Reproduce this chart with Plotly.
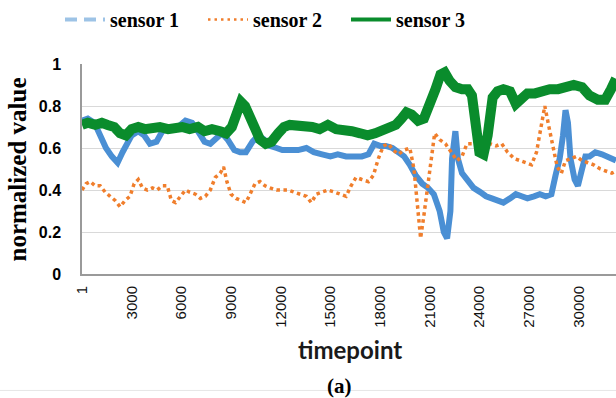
import plotly.graph_objects as go

# ---------------- data ----------------
s3_t = [1, 350, 800, 1200, 1550, 1950, 2300, 2650, 3000, 3400, 3800, 4250, 4700, 5200, 5600,
        6050, 6500, 7000, 7400, 7850, 8350, 8700, 9050, 9350, 9600, 9850, 10150, 10450, 10750,
        11100, 11450, 11850, 12200, 12550, 13000, 13400, 13900, 14350, 14850, 15350, 15800,
        16300, 16800, 17250, 17700, 18100, 18600, 18950, 19300, 19600, 19900, 20300, 20650,
        21000, 21350, 21650, 21900, 22200, 22550, 22950, 23300, 23550, 23800, 24000, 24250,
        24500, 24800, 25100, 25450, 25850, 26200, 26550, 26900, 27350, 27750, 28250, 28750,
        29200, 29700, 30200, 30650, 31150, 31600, 31950, 32250]
s3_v = [0.71, 0.72, 0.71, 0.72, 0.71, 0.70, 0.67, 0.66, 0.69, 0.70, 0.69, 0.70, 0.70, 0.69, 0.70,
        0.70, 0.69, 0.70, 0.68, 0.69, 0.68, 0.67, 0.70, 0.76, 0.82, 0.80, 0.74, 0.68, 0.64,
        0.62, 0.63, 0.67, 0.70, 0.71, 0.71, 0.70, 0.70, 0.69, 0.71, 0.69, 0.69,
        0.68, 0.67, 0.66, 0.67, 0.68, 0.70, 0.71, 0.74, 0.77, 0.76, 0.73, 0.74,
        0.80, 0.88, 0.95, 0.96, 0.92, 0.89, 0.88, 0.88, 0.85, 0.70, 0.58, 0.57,
        0.66, 0.84, 0.87, 0.88, 0.87, 0.81, 0.84, 0.86, 0.86, 0.87, 0.88, 0.88,
        0.89, 0.90, 0.89, 0.85, 0.83, 0.83, 0.88, 0.93]

s1_t = [1, 350, 750, 1100, 1450, 1800, 2150, 2450, 2750, 3000, 3400, 3750, 4100, 4500, 4850,
        5350, 5800, 6250, 6650, 7000, 7400, 7750, 8100, 8450, 8800, 9200, 9550, 9900, 10300,
        10650, 11000, 11350, 11750, 12100, 12550, 13050, 13550, 14000, 14500, 15000, 15450,
        15950, 16450, 16900, 17300, 17650, 18000, 18350, 18750, 19100, 19450, 19800, 20150,
        20550, 20900, 21250, 21600, 21850, 22050, 22250, 22350, 22550, 22700, 22950, 23300,
        23650, 24050, 24400, 24750, 25100, 25450, 25850, 26200, 26550, 26900, 27300, 27650,
        28000, 28350, 28600, 28850, 29050, 29200, 29350, 29500, 29750, 29950, 30200, 30400,
        30650, 31000, 31400, 31750, 32250]
s1_v = [0.73, 0.74, 0.72, 0.66, 0.60, 0.56, 0.53, 0.58, 0.63, 0.66, 0.68, 0.66, 0.62, 0.63, 0.68,
        0.69, 0.70, 0.73, 0.72, 0.68, 0.63, 0.62, 0.65, 0.67, 0.64, 0.59, 0.58, 0.58, 0.63,
        0.66, 0.64, 0.61, 0.60, 0.59, 0.59, 0.59, 0.60, 0.58, 0.57, 0.56, 0.57,
        0.56, 0.56, 0.56, 0.57, 0.62, 0.61, 0.61, 0.60, 0.58, 0.56, 0.52, 0.47,
        0.43, 0.41, 0.38, 0.30, 0.20, 0.17, 0.30, 0.55, 0.68, 0.55, 0.48, 0.45,
        0.41, 0.39, 0.37, 0.36, 0.35, 0.34, 0.36, 0.38, 0.37, 0.36, 0.37, 0.38,
        0.37, 0.38, 0.47, 0.55, 0.66, 0.78, 0.72, 0.55, 0.45, 0.42, 0.50, 0.56,
        0.56, 0.58, 0.57, 0.56, 0.54]

s2_t = [1, 250, 500, 800, 1100, 1400, 1700, 2000, 2300, 2600, 2900, 3150, 3400, 3650, 3950,
        4250, 4550, 4850, 5150, 5400, 5650, 5950, 6250, 6500, 6850, 7150, 7450, 7750, 8050,
        8350, 8550, 8750, 9000, 9300, 9600, 9900, 10150, 10450, 10750, 11050, 11350, 11750,
        12100, 12450, 12800, 13200, 13550, 13850, 14150, 14500, 14850, 15250, 15600, 15950,
        16250, 16550, 16900, 17300, 17600, 17900, 18200, 18500, 18800, 19100, 19450, 19800,
        20050, 20300, 20450, 20650, 20900, 21150, 21300, 21600, 21950, 22300, 22650, 22950,
        23250, 23550, 23900, 24250, 24650, 25000, 25350, 25700, 26100, 26450, 26800, 27150,
        27450, 27700, 27950, 28200, 28450, 28700, 28950, 29200, 29550, 29850, 30200, 30550,
        30900, 31300, 31650, 32000, 32250]
s2_v = [0.40, 0.43, 0.44, 0.42, 0.42, 0.39, 0.37, 0.35, 0.32, 0.35, 0.37, 0.43, 0.45, 0.41, 0.40,
        0.41, 0.40, 0.42, 0.42, 0.35, 0.34, 0.37, 0.40, 0.39, 0.38, 0.36, 0.37, 0.40, 0.46,
        0.48, 0.51, 0.44, 0.38, 0.36, 0.35, 0.34, 0.38, 0.43, 0.44, 0.42, 0.41, 0.40,
        0.40, 0.40, 0.39, 0.38, 0.37, 0.34, 0.38, 0.39, 0.40, 0.39, 0.38, 0.37,
        0.42, 0.46, 0.45, 0.44, 0.47, 0.55, 0.61, 0.62, 0.59, 0.57, 0.59, 0.60,
        0.50, 0.30, 0.17, 0.28, 0.42, 0.58, 0.67, 0.64, 0.62, 0.58, 0.54, 0.56,
        0.62, 0.62, 0.62, 0.61, 0.62, 0.61, 0.62, 0.58, 0.55, 0.54, 0.53, 0.52,
        0.58, 0.69, 0.80, 0.70, 0.60, 0.51, 0.48, 0.54, 0.55, 0.56, 0.54, 0.53,
        0.52, 0.50, 0.49, 0.48, 0.49]

names = ["sensor 1", "sensor 2", "sensor 3"]
x_ticks = [1, 3000, 6000, 9000, 12000, 15000, 18000, 21000, 24000, 27000, 30000]
x_ticktext = [str(v) for v in x_ticks]
y_ticks = [0, 0.2, 0.4, 0.6, 0.8, 1]
y_ticktext = ["0", "0.2", "0.4", "0.6", "0.8", "1"]

BLUE = "#4a8fd4"
ORANGE = "#f07e2c"
GREEN = "#0a8c2c"

fig = go.Figure()
# plotted series (drawn in legend order)
fig.add_trace(go.Scatter(x=s1_t, y=s1_v, mode="lines", line=dict(color=BLUE, width=6),
                         showlegend=False))
fig.add_trace(go.Scatter(x=s2_t, y=s2_v, mode="lines", line=dict(color=ORANGE, width=3.5, dash="dot"),
                         showlegend=False))
fig.add_trace(go.Scatter(x=s3_t, y=s3_v, mode="lines", line=dict(color=GREEN, width=10),
                         showlegend=False))
# legend entries
fig.add_trace(go.Scatter(x=[None], y=[None], mode="lines", name=names[0],
                         line=dict(color="#9dc3e6", width=4, dash="12px,7px")))
fig.add_trace(go.Scatter(x=[None], y=[None], mode="lines", name=names[1],
                         line=dict(color=ORANGE, width=2.5, dash="2.5px,4px")))
fig.add_trace(go.Scatter(x=[None], y=[None], mode="lines", name=names[2],
                         line=dict(color=GREEN, width=4)))

fig.update_layout(
    width=616, height=398,
    margin=dict(l=82, r=0, t=63, b=124),
    paper_bgcolor="white", plot_bgcolor="white",
    showlegend=True,
    legend=dict(orientation="h", x=-0.0412, xanchor="left", y=1.214, yanchor="middle",
                font=dict(family="Liberation Serif", size=20, color="black", weight="bold"),
                itemwidth=40, entrywidth=88, bgcolor="rgba(0,0,0,0)"),
    xaxis=dict(range=[1, 32250], tickvals=x_ticks, ticktext=x_ticktext, tickangle=-90,
               showgrid=False, zeroline=False, showline=True, linecolor="#9a9a9a", linewidth=2,
               ticks="", ticklabelstandoff=4,
               tickfont=dict(family="Liberation Sans", size=15, color="#111111")),
    yaxis=dict(range=[0, 1], tickvals=y_ticks, ticktext=y_ticktext,
               showgrid=True, gridcolor="#d9d9d9", gridwidth=1.3, zeroline=False,
               showline=True, linecolor="#9a9a9a", linewidth=1.5, ticks="", ticklabelstandoff=16,
               tickfont=dict(family="Liberation Sans", size=16, color="black", weight="bold")),
    annotations=[
        dict(text="normalized value", xref="paper", yref="paper", x=-0.1217, y=0.4976,
             textangle=-90, showarrow=False, xanchor="center", yanchor="middle",
             font=dict(family="Liberation Serif", size=25, color="black", weight="bold")),
        dict(text="timepoint", xref="paper", yref="paper", x=0.502, y=-0.36,
             showarrow=False, xanchor="center", yanchor="middle",
             font=dict(family="Lato", size=24, color="#1a1a1a", weight="bold")),
        dict(text="(a)", xref="paper", yref="paper", x=0.483, y=-0.531,
             showarrow=False, xanchor="center", yanchor="middle",
             font=dict(family="Liberation Serif", size=21, color="black", weight="bold")),
    ],
    shapes=[dict(type="line", xref="paper", yref="paper", x0=-0.2, x1=1.0, y0=-0.5545, y1=-0.5545,
                 line=dict(color="#e6e6e6", width=1), layer="below")],
)

fig.write_html("out.html")
